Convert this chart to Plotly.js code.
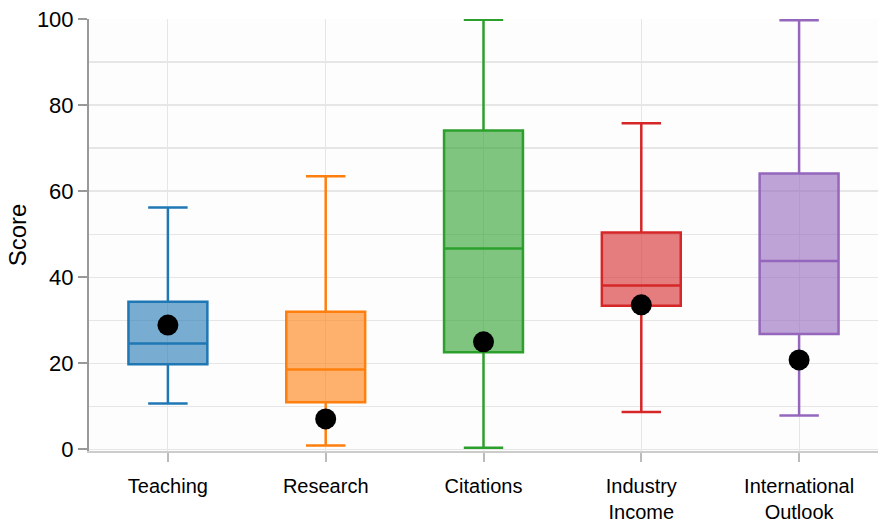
<!DOCTYPE html>
<html><head><meta charset="utf-8">
<script src="https://cdn.plot.ly/plotly-3.0.1.min.js"></script>
<style>body{margin:0;background:#fff}#c{width:878px;height:525px}</style>
</head><body><div id="c"></div>
<script>
var categories = ["Teaching", "Research", "Citations", "Industry Income", "International Outlook"];
var tickLabels = ["Teaching", "Research", "Citations", "Industry<br>Income", "International<br>Outlook"];
var lowerWhisker = [10.7, 0.9, 0.4, 8.7, 7.9];
var q1Values = [19.8, 11.0, 22.6, 33.4, 26.8];
var medianValues = [24.6, 18.6, 46.7, 38.1, 43.8];
var q3Values = [34.3, 32.0, 74.1, 50.4, 64.1];
var upperWhisker = [56.2, 63.5, 99.8, 75.8, 99.7];
var dotValues = [28.9, 7.1, 25.0, 33.6, 20.8];
var colors = ["#1f77b4", "#ff7f0e", "#2ca02c", "#d62728", "#9467bd"];
var fills = ["rgba(31,119,180,0.6)", "rgba(255,127,14,0.6)", "rgba(44,160,44,0.6)", "rgba(214,39,40,0.6)", "rgba(148,103,189,0.6)"];

var traces = [];
categories.forEach(function(c, i){
  traces.push({
    type: "box", x: [c], q1: [q1Values[i]], median: [medianValues[i]], q3: [q3Values[i]],
    lowerfence: [lowerWhisker[i]], upperfence: [upperWhisker[i]],
    width: 0.5, whiskerwidth: 0.5,
    line: {color: colors[i], width: 2.5}, fillcolor: fills[i],
    boxpoints: false, hoverinfo: "skip", showlegend: false
  });
});
traces.push({
  type: "scatter", mode: "markers", x: categories, y: dotValues,
  marker: {color: "#000", size: 21}, showlegend: false
});

var layout = {
  width: 878, height: 525,
  margin: {l: 89, r: 0, t: 19, b: 74},
  paper_bgcolor: "#fff", plot_bgcolor: "#fdfdfd",
  font: {family: "Liberation Sans, Arial, sans-serif", color: "#000"},
  xaxis: {
    type: "category", categoryorder: "array", categoryarray: categories,
    tickvals: categories, ticktext: tickLabels, range: [-0.5, 4.5],
    showgrid: true, gridcolor: "#e6e6e6", gridwidth: 1,
    showline: true, linecolor: "#cccccc", linewidth: 2,
    ticks: "outside", ticklen: 9, tickcolor: "#bbbbbb", tickwidth: 2,
    tickfont: {size: 20}, ticklabelstandoff: 7, zeroline: false
  },
  yaxis: {
    range: [-0.35, 100], dtick: 20, tick0: 0,
    showgrid: true, gridcolor: "#e6e6e6", gridwidth: 1.5,
    minor: {dtick: 10, showgrid: true, gridcolor: "#e6e6e6", gridwidth: 1.5},
    showline: true, linecolor: "#999999", linewidth: 2,
    ticks: "outside", ticklen: 9, tickcolor: "#999999", tickwidth: 2,
    tickfont: {size: 22}, zeroline: false,
    title: {text: "Score", font: {size: 24}, standoff: 3}
  },
  showlegend: false
};
Plotly.newPlot("c", traces, layout, {displayModeBar: false, staticPlot: true});
</script></body></html>
